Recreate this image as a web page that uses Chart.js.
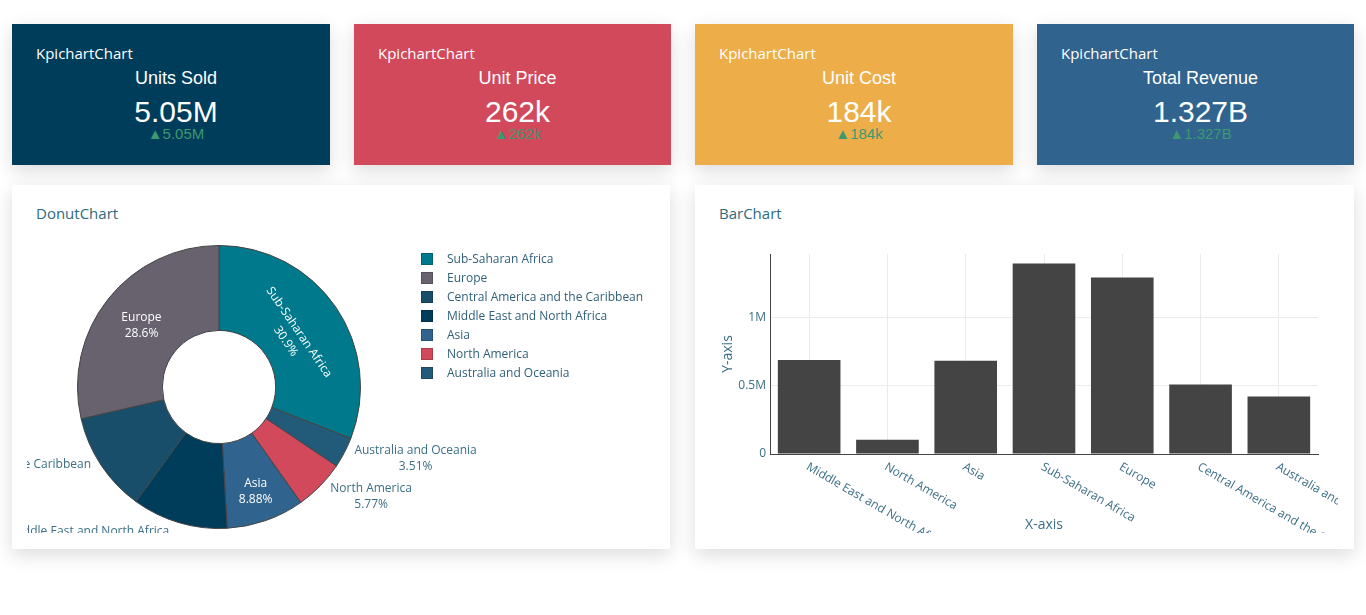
<!DOCTYPE html>
<html>
<head>
<meta charset="utf-8">
<script src="https://cdn.jsdelivr.net/npm/chart.js@4.4.0/dist/chart.umd.min.js"></script>
<style>
  html, body { margin: 0; padding: 0; background: #fff; }
  body { width: 1366px; height: 615px; position: relative; overflow: hidden; font-family: "Open Sans", sans-serif; }
  .card { position: absolute; background: #fff; box-shadow: 0 6px 18px rgba(0,0,0,0.14); }
  .kpi { top: 24px; height: 141px; color: #fff; }
  .kpi .name { position: absolute; left: 24px; top: 19px; font-size: 15px; line-height: 20px; font-family: "Open Sans"; }
  .kpi .lbl { position: absolute; left: 10px; right: 0; top: 43px; text-align: center; font: 18px/22px "Liberation Sans", Arial, sans-serif; }
  .kpi .val { position: absolute; left: 10px; right: 0; top: 71px; text-align: center; font: 30px/34px "Liberation Sans", Arial, sans-serif; }
  .kpi .delta { position: absolute; left: 10px; right: 0; top: 101px; text-align: center; font: 15px/18px "Liberation Sans", Arial, sans-serif; color: #3d9970; }
  .ctitle { position: absolute; left: 24px; top: 17px; font-size: 15px; line-height: 22px; color: #2e6a80; }
  #donutLegend { position: absolute; left: 409px; top: 64px; }
  #donutLegend .item { height: 19px; line-height: 19px; font-size: 12px; color: #2f6078; white-space: nowrap; }
  #donutLegend .box { display: inline-block; width: 12px; height: 12px; vertical-align: -2px; margin-right: 14px; box-shadow: inset 0 0 0 1px rgba(0,0,0,0.18); }
</style>
</head>
<body>

<div class="card kpi" style="left:12px;width:318px;background:#003d5b"></div>
<div class="card kpi" style="left:354px;width:317px;background:#d1495b"></div>
<div class="card kpi" style="left:695px;width:318px;background:#edae49"></div>
<div class="card kpi" style="left:1037px;width:317px;background:#30638e"></div>

<div class="card" id="donutCard" style="left:12px;top:185px;width:658px;height:364px">
  <div class="ctitle">DonutChart</div>
  <canvas id="donutChart" width="633" height="303" style="position:absolute;left:15px;top:45px"></canvas>
  <div id="donutLegend"></div>
</div>

<div class="card" id="barCard" style="left:695px;top:185px;width:659px;height:364px">
  <div class="ctitle">BarChart</div>
  <canvas id="barChart" width="638" height="293" style="position:absolute;left:5px;top:55px"></canvas>
</div>

<script>
// KPI tiles
const kpiTitles = ['Units Sold', 'Unit Price', 'Unit Cost', 'Total Revenue'];
const kpiValues = ['5.05M', '262k', '184k', '1.327B'];
const kpiDeltas = ['5.05M', '262k', '184k', '1.327B'];

// donut: share by region (clockwise from 12 o'clock)
const donutRegions = ['Sub-Saharan Africa', 'Australia and Oceania', 'North America', 'Asia',
  'Middle East and North Africa', 'Central America and the Caribbean', 'Europe'];
const donutShares = [30.9, 3.51, 5.77, 8.88, 10.9, 11.4, 28.6];
const donutColors = ['#00798c', '#225a79', '#d1495b', '#30638e', '#003d5b', '#194e6a', '#68626f'];

// bar: units sold by region
const barRegions = ['Middle East and North Africa', 'North America', 'Asia', 'Sub-Saharan Africa',
  'Europe', 'Central America and the Caribbean', 'Australia and Oceania'];
const barUnits = [688000, 105000, 683000, 1395000, 1293000, 510000, 422000];
const yTickValues = [0, 500000, 1000000];
const yTickLabels = ['0', '0.5M', '1M'];
const yAxisMax = 1465000;

const textColor = '#3a6f85';
const fontFamily = '"Open Sans"';

document.querySelectorAll('.kpi').forEach((el, i) => {
  el.innerHTML = '<div class="name">KpichartChart</div>' +
    '<div class="lbl">' + kpiTitles[i] + '</div>' +
    '<div class="val">' + kpiValues[i] + '</div>' +
    '<div class="delta">\u25B2' + kpiDeltas[i] + '</div>';
});

// legend, sorted by value like the original
const legendEl = document.getElementById('donutLegend');
donutRegions.map((r, i) => i)
  .sort((a, b) => donutShares[b] - donutShares[a])
  .forEach(i => {
    const row = document.createElement('div');
    row.className = 'item';
    row.innerHTML = '<span class="box" style="background:' + donutColors[i] + '"></span>' + donutRegions[i];
    legendEl.appendChild(row);
  });

// labels on / beside the slices
const sliceLabels = {
  id: 'sliceLabels',
  afterDatasetsDraw(chart) {
    const ctx = chart.ctx;
    const meta = chart.getDatasetMeta(0);
    const vals = chart.data.datasets[0].data;
    const total = vals.reduce((a, b) => a + b, 0);
    const lh = 16;
    ctx.save();
    ctx.font = '12px ' + fontFamily;
    ctx.textBaseline = 'middle';
    ctx.textAlign = 'center';
    meta.data.forEach((arc, i) => {
      const p = arc.getProps(['x', 'y', 'startAngle', 'endAngle', 'innerRadius', 'outerRadius'], true);
      const lines = [chart.data.labels[i], (vals[i] / total * 100).toPrecision(3) + '%'];
      const w = Math.max(...lines.map(t => ctx.measureText(t).width));
      const h = lh * 2;
      const mid = (p.startAngle + p.endAngle) / 2;
      const half = (p.endAngle - p.startAngle) / 2;
      const R = p.outerRadius, r0 = p.innerRadius;
      const s = Math.sin(Math.min(half, Math.PI / 2));
      const rho = Math.min((R - r0) / 2, R * s / (1 + s));
      let d = R - rho;
      const ux = Math.cos(mid), uy = Math.sin(mid);

      let mode = 'out';
      if (Math.hypot(w, h) / 2 <= rho) {
        mode = 'h';
      } else {
        let ok = d - h / 2 >= r0;
        [-w / 2, w / 2].forEach(a => [-h / 2, h / 2].forEach(b => {
          const rad = Math.hypot(d + b, a);
          const ang = Math.atan2(Math.abs(a), d + b);
          if (rad > R || rad < r0 || ang > half) ok = false;
        }));
        if (ok) mode = 't';
      }

      ctx.save();
      if (mode === 'out') {
        const px = p.x + ux * R, py = p.y + uy * R;
        const cx = ux >= 0 ? px + 10 + w / 2 : px - 10 - w / 2;
        const cy = py + uy * Math.abs(uy) * h / 2 + 2.5;
        ctx.fillStyle = textColor;
        ctx.fillText(lines[0], cx, cy - lh / 2);
        ctx.fillText(lines[1], cx, cy + lh / 2);
      } else {
        if (mode === 't') d = r0 + (R - r0) * 0.38;
        ctx.translate(p.x + ux * d, p.y + uy * d);
        if (mode === 't') {
          let rot = mid + Math.PI / 2;
          while (rot > Math.PI / 2) rot -= Math.PI;
          while (rot < -Math.PI / 2) rot += Math.PI;
          ctx.rotate(rot);
        }
        ctx.fillStyle = '#fff';
        ctx.fillText(lines[0], 0, -lh / 2);
        ctx.fillText(lines[1], 0, lh / 2);
      }
      ctx.restore();
    });
    ctx.restore();
  }
};

new Chart(document.getElementById('donutChart').getContext('2d'), {
  type: 'doughnut',
  data: {
    labels: donutRegions,
    datasets: [{
      data: donutShares,
      backgroundColor: donutColors,
      borderColor: '#444',
      borderWidth: 1,
    }],
  },
  options: {
    responsive: false,
    animation: false,
    events: [],
    cutout: '40%',
    layout: { padding: { left: 50, right: 299, top: 15, bottom: 4 } },
    plugins: { legend: { display: false }, tooltip: { enabled: false } },
  },
  plugins: [sliceLabels],
});

// slanted category labels, plotly style
const slantLabels = {
  id: 'slantLabels',
  afterDraw(chart) {
    const xs = chart.scales.x;
    const ctx = chart.ctx;
    ctx.save();
    ctx.font = '12px ' + fontFamily;
    ctx.fillStyle = textColor;
    ctx.textAlign = 'left';
    ctx.textBaseline = 'middle';
    chart.data.labels.forEach((lab, i) => {
      ctx.save();
      ctx.translate(xs.getPixelForTick(i) - 2, xs.top + 12);
      ctx.rotate(Math.PI / 6);
      ctx.fillText(lab, 0, 0);
      ctx.restore();
    });
    ctx.restore();
  }
};

new Chart(document.getElementById('barChart').getContext('2d'), {
  type: 'bar',
  data: {
    labels: barRegions,
    datasets: [{
      data: barUnits,
      backgroundColor: '#444',
      categoryPercentage: 0.8,
      barPercentage: 1.0,
    }],
  },
  options: {
    responsive: false,
    animation: false,
    events: [],
    layout: { padding: { left: 16, right: 20, top: 14, bottom: 0 } },
    plugins: { legend: { display: false }, tooltip: { enabled: false } },
    scales: {
      x: {
        afterFit: s => { s.height = 79; },
        ticks: { display: false },
        grid: { color: '#ebebeb', offset: false, drawTicks: false },
        border: { color: '#444', width: 1 },
        title: { display: true, text: 'X-axis', color: textColor, font: { size: 14, family: fontFamily }, padding: { top: 0, bottom: 0 } },
      },
      y: {
        min: 0,
        max: yAxisMax,
        afterBuildTicks: s => { s.ticks = yTickValues.map(v => ({ value: v })); },
        afterFit: s => { s.width = 54; },
        ticks: {
          color: textColor,
          font: { size: 12, family: fontFamily },
          padding: 4,
          callback: v => yTickLabels[yTickValues.indexOf(v)],
        },
        grid: { color: '#ebebeb', drawTicks: false },
        border: { color: '#444', width: 1 },
        title: { display: true, text: 'Y-axis', color: textColor, font: { size: 14, family: fontFamily }, padding: { top: 4, bottom: 4 } },
      },
    },
  },
  plugins: [slantLabels],
});
</script>
</body>
</html>
